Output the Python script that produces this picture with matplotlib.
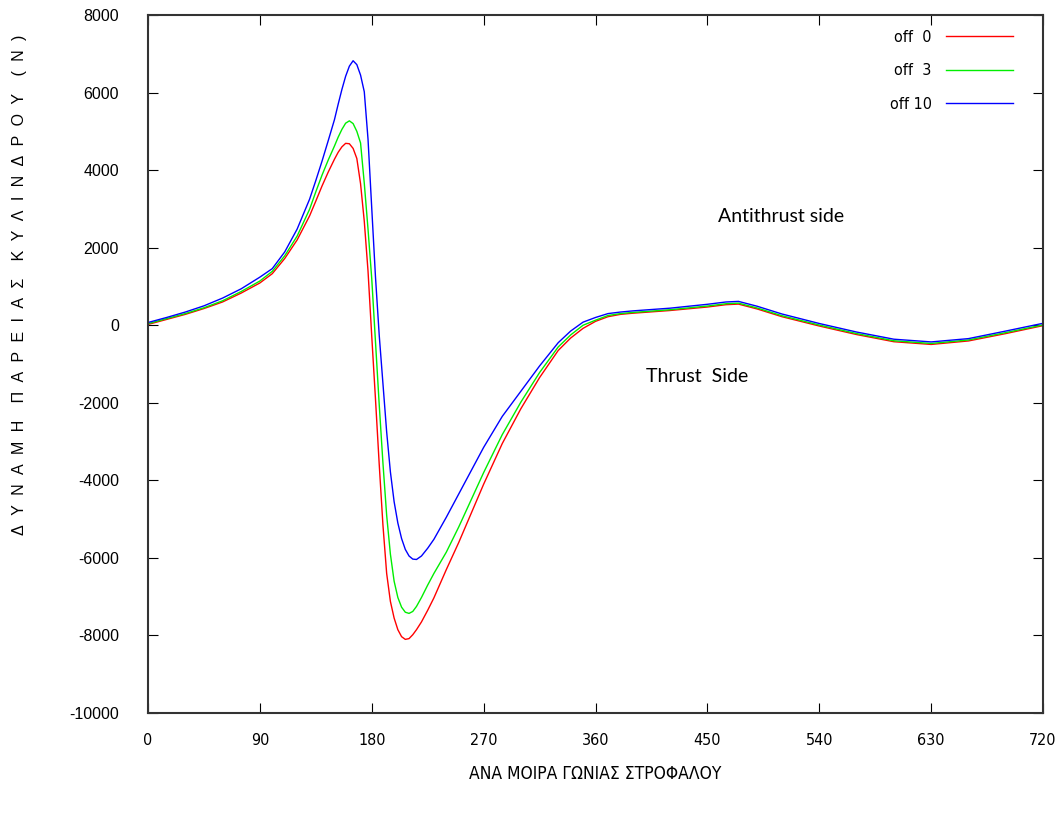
import matplotlib
matplotlib.use("Agg")
import matplotlib.pyplot as plt

# crank angle (deg)
angle = [0, 15, 30, 45, 60, 75, 90, 100, 110, 120, 130, 135, 140, 145, 150, 153, 156,
         159, 162, 165, 168, 171, 174, 177, 180, 183, 186, 189, 192, 195, 198, 201,
         204, 207, 210, 213, 216, 220, 225, 230, 240, 250, 260, 270, 285, 300, 315,
         330, 340, 350, 360, 370, 380, 390, 420, 450, 465, 475, 490, 510, 540, 570,
         600, 630, 660, 690, 720]

# side force (N) for each offset
off0 = [20, 150, 280, 430, 600, 830, 1090, 1330, 1720, 2200, 2820, 3200, 3590, 3950, 4280, 4460, 4600,
        4690, 4680, 4560, 4300, 3650, 2680, 1400, -280, -1900, -3580, -5150, -6400, -7120, -7550, -7850,
        -8030, -8100, -8080, -7980, -7850, -7650, -7350, -7030, -6300, -5600, -4850, -4100, -3050, -2150, -1350,
        -650, -330, -80, 100, 220, 280, 310, 380, 470, 530, 545, 420, 220, -20, -240,
        -425, -495, -405, -215, -10]
off3 = [40, 170, 300, 450, 630, 870, 1140, 1390, 1790, 2300, 2990, 3440, 3870, 4260, 4620, 4850, 5050,
        5210, 5270, 5200, 5000, 4700, 3660, 2480, 1200, -420, -2040, -3550, -4900, -5900, -6600, -7020,
        -7270, -7400, -7430, -7380, -7250, -7020, -6700, -6400, -5850, -5200, -4500, -3800, -2820, -1980, -1220,
        -560, -250, 0, 130, 250, 300, 330, 400, 495, 555, 570, 445, 245, 5, -215,
        -400, -470, -380, -190, 10]
off10 = [70, 200, 340, 500, 700, 940, 1240, 1460, 1890, 2480, 3250, 3730, 4230, 4760, 5300, 5700, 6080,
         6420, 6680, 6820, 6720, 6450, 6020, 4800, 3020, 1250, -250, -1500, -2750, -3780, -4550, -5100,
         -5500, -5780, -5950, -6030, -6040, -5950, -5750, -5520, -4950, -4350, -3750, -3150, -2350, -1700, -1050,
         -450, -150, 80, 200, 300, 340, 370, 440, 540, 600, 615, 490, 290, 45, -175,
         -360, -430, -345, -150, 50]

labels = ["off  0", "off  3", "off 10"]
colors = ["#ff0000", "#00ee00", "#0000ff"]

xticks = [0, 90, 180, 270, 360, 450, 540, 630, 720]
yticks = [-10000, -8000, -6000, -4000, -2000, 0, 2000, 4000, 6000, 8000]

narrow = dict(family="DejaVu Sans", stretch="condensed")
arial = ["Liberation Sans", "DejaVu Sans"]

fig = plt.figure(figsize=(10.6, 8.14), dpi=100)
ax = fig.add_axes([0.1396, 0.124, 0.8444, 0.8576])

for y, lab, c in zip([off0, off3, off10], labels, colors):
    ax.plot(angle, y, color=c, lw=1.0, label=lab)

ax.set_xlim(0, 720)
ax.set_ylim(-10000, 8000)
ax.set_xticks(xticks)
ax.set_yticks(yticks)
ax.set_xticklabels([str(v) for v in xticks], fontsize=11.5, **narrow)
ax.set_yticklabels([str(v) for v in yticks], family=arial, fontsize=11.5)
ax.tick_params(direction="in", length=7, width=0.8, top=True, right=True)
ax.tick_params(axis="x", pad=14)
ax.tick_params(axis="y", pad=21)
for s in ax.spines.values():
    s.set_linewidth(1.5)
    s.set_color("#333333")

ax.set_xlabel("ΑΝΑ ΜΟΙΡΑ ΓΩΝΙΑΣ ΣΤΡΟΦΑΛΟΥ", fontsize=12.5, labelpad=12.5, **narrow)

# letter-spaced y label, as in the original
words = ["ΔΥΝΑΜΗ", "ΠΑΡΕΙΑΣ", "ΚΥΛΙΝΔΡΟΥ", "(Ν)"]
gap = "\u2002\u200a"
ylab = (gap + "\u2002").join(gap.join(w) for w in words)
ax.set_ylabel(ylab, family=arial, fontsize=11.5)
ax.yaxis.set_label_coords(-0.135, 0.613)

ax.text(509, 2800, "Antithrust side", family="Lato", fontsize=14, ha="center", va="center")
ax.text(441.7, -1310, "Thrust  Side", family="Lato", fontsize=14, ha="center", va="center")

leg = ax.legend(loc="upper right", bbox_to_anchor=(0.9737, 0.9877), borderaxespad=0,
                frameon=False, markerfirst=False,
                prop={"family": "DejaVu Sans", "stretch": "condensed", "size": 11.5},
                handlelength=4.2, handletextpad=0.9, labelspacing=1.15)

fig.savefig("out.png", dpi=100)
